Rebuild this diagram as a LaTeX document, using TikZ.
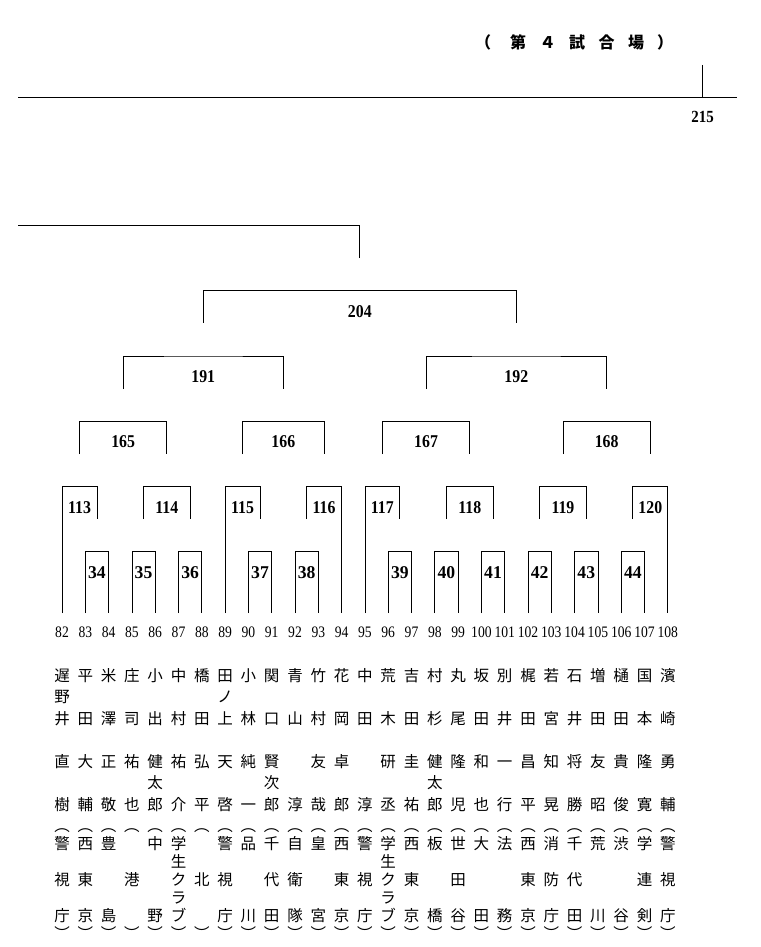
\documentclass[tikz,border=0pt]{standalone}
\usepackage{fontspec}
\setmainfont{Liberation Serif}
\newfontfamily\jpfont{Noto Sans CJK JP}
\newfontfamily\leaffont[FakeStretch=0.85]{Liberation Serif}
\newfontfamily\matchfont[FakeStretch=0.88]{Liberation Serif}
\newfontfamily\boxfont[FakeStretch=0.98]{Liberation Serif}
\newcommand{\meibo}[6]{\rule{0pt}{14pt}\mbox{#1}\\\mbox{#2}\\\mbox{#3}\\\mbox{}\\\mbox{#4}\\\mbox{#5}\\\mbox{#6}}
\newcommand{\shozoku}[5]{\rule{0pt}{14pt}︵\\\mbox{#1}\\\mbox{#2}\\\mbox{#3}\\\mbox{#4}\\\mbox{#5}\\︶}

\begin{document}
\begin{tikzpicture}[x=1pt,y=-1pt]
\tikzstyle{leg}=[line width=0.8pt]
\tikzstyle{leafno}=[inner sep=0pt,font=\leaffont\fontsize{16}{16}\selectfont]
\tikzstyle{matchno}=[inner sep=0pt,font=\matchfont\bfseries\fontsize{18}{18}\selectfont]
\tikzstyle{boxno}=[inner sep=0pt,font=\boxfont\bfseries\fontsize{18}{18}\selectfont]
\tikzstyle{player}=[anchor=north,inner sep=0pt,align=center,font=\jpfont\fontsize{15.5}{21.5}\selectfont]
\tikzstyle{club}=[player,font=\jpfont\fontsize{15.5}{18}\selectfont]
\useasboundingbox (0,0) rectangle (760,947);

% page head
\path (475,42.7) node[anchor=west,inner sep=0pt,font=\jpfont\bfseries\fontsize{16}{16}\selectfont](venue){（\hspace{19pt}第\hspace{13.5pt}４\hspace{13.5pt}試\hspace{13.5pt}合\hspace{13.5pt}場\hspace{13pt}）};
\path (18,97.5) coordinate(ruleL) (737,97.5) coordinate(ruleR) (702,65) coordinate(tickT);
\draw[line width=1.3pt] (ruleL) -- (ruleR);
\draw[leg] (tickT) -- (tickT |- ruleR);
\path (702.5,117) node[matchno,font=\matchfont\bfseries\fontsize{17}{17}\selectfont](page){215};

% leaves
\path (62.0,632) node[leafno](n82){82} (85.3,632) node[leafno](n83){83} (108.6,632) node[leafno](n84){84} (131.9,632) node[leafno](n85){85} (155.2,632) node[leafno](n86){86} (178.5,632) node[leafno](n87){87} (201.8,632) node[leafno](n88){88};
\path (225.1,632) node[leafno](n89){89} (248.4,632) node[leafno](n90){90} (271.7,632) node[leafno](n91){91} (295.0,632) node[leafno](n92){92} (318.3,632) node[leafno](n93){93} (341.6,632) node[leafno](n94){94};
\path (364.9,632) node[leafno](n95){95} (388.2,632) node[leafno](n96){96} (411.5,632) node[leafno](n97){97} (434.8,632) node[leafno](n98){98} (458.1,632) node[leafno](n99){99} (481.4,632) node[leafno](n100){100} (504.7,632) node[leafno](n101){101};
\path (528.0,632) node[leafno](n102){102} (551.3,632) node[leafno](n103){103} (574.6,632) node[leafno](n104){104} (597.9,632) node[leafno](n105){105} (621.2,632) node[leafno](n106){106} (644.5,632) node[leafno](n107){107} (667.8,632) node[leafno](n108){108};
\path (62.0,613) coordinate(f82) (85.3,613) coordinate(f83) (108.6,613) coordinate(f84) (131.9,613) coordinate(f85) (155.2,613) coordinate(f86) (178.5,613) coordinate(f87) (201.8,613) coordinate(f88);
\path (225.1,613) coordinate(f89) (248.4,613) coordinate(f90) (271.7,613) coordinate(f91) (295.0,613) coordinate(f92) (318.3,613) coordinate(f93) (341.6,613) coordinate(f94);
\path (364.9,613) coordinate(f95) (388.2,613) coordinate(f96) (411.5,613) coordinate(f97) (434.8,613) coordinate(f98) (458.1,613) coordinate(f99) (481.4,613) coordinate(f100) (504.7,613) coordinate(f101);
\path (528.0,613) coordinate(f102) (551.3,613) coordinate(f103) (574.6,613) coordinate(f104) (597.9,613) coordinate(f105) (621.2,613) coordinate(f106) (644.5,613) coordinate(f107) (667.8,613) coordinate(f108);

% names
\path (62.0,666.9) node[player](p82){\meibo{遅}{野}{井}{直}{}{樹}} (85.3,666.9) node[player](p83){\meibo{平}{}{田}{大}{}{輔}} (108.6,666.9) node[player](p84){\meibo{米}{}{澤}{正}{}{敬}};
\path (131.9,666.9) node[player](p85){\meibo{庄}{}{司}{祐}{}{也}} (155.2,666.9) node[player](p86){\meibo{小}{}{出}{健}{太}{郎}} (178.5,666.9) node[player](p87){\meibo{中}{}{村}{祐}{}{介}};
\path (201.8,666.9) node[player](p88){\meibo{橋}{}{田}{弘}{}{平}} (225.1,666.9) node[player](p89){\meibo{田}{ノ}{上}{天}{}{啓}} (248.4,666.9) node[player](p90){\meibo{小}{}{林}{純}{}{一}};
\path (271.7,666.9) node[player](p91){\meibo{関}{}{口}{賢}{次}{郎}} (295.0,666.9) node[player](p92){\meibo{青}{}{山}{}{}{淳}} (318.3,666.9) node[player](p93){\meibo{竹}{}{村}{友}{}{哉}};
\path (341.6,666.9) node[player](p94){\meibo{花}{}{岡}{卓}{}{郎}} (364.9,666.9) node[player](p95){\meibo{中}{}{田}{}{}{淳}} (388.2,666.9) node[player](p96){\meibo{荒}{}{木}{研}{}{丞}};
\path (411.5,666.9) node[player](p97){\meibo{吉}{}{田}{圭}{}{祐}} (434.8,666.9) node[player](p98){\meibo{村}{}{杉}{健}{太}{郎}} (458.1,666.9) node[player](p99){\meibo{丸}{}{尾}{隆}{}{児}};
\path (481.4,666.9) node[player](p100){\meibo{坂}{}{田}{和}{}{也}} (504.7,666.9) node[player](p101){\meibo{別}{}{井}{一}{}{行}} (528.0,666.9) node[player](p102){\meibo{梶}{}{田}{昌}{}{平}};
\path (551.3,666.9) node[player](p103){\meibo{若}{}{宮}{知}{}{晃}} (574.6,666.9) node[player](p104){\meibo{石}{}{井}{将}{}{勝}} (597.9,666.9) node[player](p105){\meibo{増}{}{田}{友}{}{昭}};
\path (621.2,666.9) node[player](p106){\meibo{樋}{}{田}{貴}{}{俊}} (644.5,666.9) node[player](p107){\meibo{国}{}{本}{隆}{}{寛}} (667.8,666.9) node[player](p108){\meibo{濱}{}{崎}{勇}{}{輔}};

% clubs
\path (62.0,816.9) node[club](c82){\shozoku{警}{}{視}{}{庁}} (85.3,816.9) node[club](c83){\shozoku{西}{}{東}{}{京}} (108.6,816.9) node[club](c84){\shozoku{豊}{}{}{}{島}};
\path (131.9,816.9) node[club](c85){\shozoku{}{}{港}{}{}} (155.2,816.9) node[club](c86){\shozoku{中}{}{}{}{野}} (178.5,816.9) node[club](c87){\shozoku{学}{生}{ク}{ラ}{ブ}};
\path (201.8,816.9) node[club](c88){\shozoku{}{}{北}{}{}} (225.1,816.9) node[club](c89){\shozoku{警}{}{視}{}{庁}} (248.4,816.9) node[club](c90){\shozoku{品}{}{}{}{川}};
\path (271.7,816.9) node[club](c91){\shozoku{千}{}{代}{}{田}} (295.0,816.9) node[club](c92){\shozoku{自}{}{衛}{}{隊}} (318.3,816.9) node[club](c93){\shozoku{皇}{}{}{}{宮}};
\path (341.6,816.9) node[club](c94){\shozoku{西}{}{東}{}{京}} (364.9,816.9) node[club](c95){\shozoku{警}{}{視}{}{庁}} (388.2,816.9) node[club](c96){\shozoku{学}{生}{ク}{ラ}{ブ}};
\path (411.5,816.9) node[club](c97){\shozoku{西}{}{東}{}{京}} (434.8,816.9) node[club](c98){\shozoku{板}{}{}{}{橋}} (458.1,816.9) node[club](c99){\shozoku{世}{}{田}{}{谷}};
\path (481.4,816.9) node[club](c100){\shozoku{大}{}{}{}{田}} (504.7,816.9) node[club](c101){\shozoku{法}{}{}{}{務}} (528.0,816.9) node[club](c102){\shozoku{西}{}{東}{}{京}};
\path (551.3,816.9) node[club](c103){\shozoku{消}{}{防}{}{庁}} (574.6,816.9) node[club](c104){\shozoku{千}{}{代}{}{田}} (597.9,816.9) node[club](c105){\shozoku{荒}{}{}{}{川}};
\path (621.2,816.9) node[club](c106){\shozoku{渋}{}{}{}{谷}} (644.5,816.9) node[club](c107){\shozoku{学}{}{連}{}{剣}} (667.8,816.9) node[club](c108){\shozoku{警}{}{視}{}{庁}};

% first round
\path (96.95,551.5) coordinate(t34) (143.55,551.5) coordinate(t35) (190.15,551.5) coordinate(t36) (260.05,551.5) coordinate(t37) (306.65,551.5) coordinate(t38);
\path (399.85,551.5) coordinate(t39) (446.45,551.5) coordinate(t40) (493.05,551.5) coordinate(t41) (539.65,551.5) coordinate(t42) (586.25,551.5) coordinate(t43) (632.85,551.5) coordinate(t44);
\path (96.95,519) coordinate(e34) (143.55,519) coordinate(e35) (190.15,519) coordinate(e36) (260.05,519) coordinate(e37) (306.65,519) coordinate(e38);
\path (399.85,519) coordinate(e39) (446.45,519) coordinate(e40) (493.05,519) coordinate(e41) (539.65,519) coordinate(e42) (586.25,519) coordinate(e43) (632.85,519) coordinate(e44);
\draw[leg] (f83) |- (t34) -| (f84);
\draw[leg] (f85) |- (t35) -| (f86);
\draw[leg] (f87) |- (t36) -| (f88);
\draw[leg] (f90) |- (t37) -| (f91);
\draw[leg] (f92) |- (t38) -| (f93);
\draw[leg] (f96) |- (t39) -| (f97);
\draw[leg] (f98) |- (t40) -| (f99);
\draw[leg] (f100) |- (t41) -| (f101);
\draw[leg] (f102) |- (t42) -| (f103);
\draw[leg] (f104) |- (t43) -| (f105);
\draw[leg] (f106) |- (t44) -| (f107);
\path (96.95,573) node[boxno](m34){34} (143.55,573) node[boxno](m35){35} (190.15,573) node[boxno](m36){36} (260.05,573) node[boxno](m37){37} (306.65,573) node[boxno](m38){38};
\path (399.85,573) node[boxno](m39){39} (446.45,573) node[boxno](m40){40} (493.05,573) node[boxno](m41){41} (539.65,573) node[boxno](m42){42} (586.25,573) node[boxno](m43){43} (632.85,573) node[boxno](m44){44};

% second round
\path (79.48,486.5) coordinate(t113) (166.85,486.5) coordinate(t114) (242.58,486.5) coordinate(t115) (324.13,486.5) coordinate(t116);
\path (382.38,486.5) coordinate(t117) (469.75,486.5) coordinate(t118) (562.95,486.5) coordinate(t119) (650.33,486.5) coordinate(t120);
\path (79.48,454) coordinate(e113) (166.85,454) coordinate(e114) (242.58,454) coordinate(e115) (324.13,454) coordinate(e116);
\path (382.38,454) coordinate(e117) (469.75,454) coordinate(e118) (562.95,454) coordinate(e119) (650.33,454) coordinate(e120);
\draw[leg] (f82) |- (t113) -| (e34);
\draw[leg] (e35) |- (t114) -| (e36);
\draw[leg] (f89) |- (t115) -| (e37);
\draw[leg] (e38) |- (t116) -| (f94);
\draw[leg] (f95) |- (t117) -| (e39);
\draw[leg] (e40) |- (t118) -| (e41);
\draw[leg] (e42) |- (t119) -| (e43);
\draw[leg] (e44) |- (t120) -| (f108);
\path (79.48,508) node[matchno](m113){113} (166.85,508) node[matchno](m114){114} (242.58,508) node[matchno](m115){115} (324.13,508) node[matchno](m116){116};
\path (382.38,508) node[matchno](m117){117} (469.75,508) node[matchno](m118){118} (562.95,508) node[matchno](m119){119} (650.33,508) node[matchno](m120){120};

% third round and up
\path (123.17,421.5) coordinate(t165) (283.35,421.5) coordinate(t166) (426.07,421.5) coordinate(t167) (606.64,421.5) coordinate(t168);
\path (123.17,389) coordinate(e165) (283.35,389) coordinate(e166) (426.07,389) coordinate(e167) (606.64,389) coordinate(e168);
\draw[leg] (e113) |- (t165) -| (e114);
\draw[leg] (e115) |- (t166) -| (e116);
\draw[leg] (e117) |- (t167) -| (e118);
\draw[leg] (e119) |- (t168) -| (e120);
\path (123.17,442) node[matchno](m165){165} (283.35,442) node[matchno](m166){166} (426.07,442) node[matchno](m167){167} (606.64,442) node[matchno](m168){168};

\path (203.26,356) coordinate(t191) (516.36,356) coordinate(t192) (203.26,322.5) coordinate(e191) (516.36,322.5) coordinate(e192);
\draw[leg] (e165) |- (t191) -| (e166);
\draw[leg] (e167) |- (t192) -| (e168);
\path (203.26,377) node[matchno](m191){191} (516.36,377) node[matchno](m192){192};

\path (359.81,290.7) coordinate(t204) (359.81,258) coordinate(e204) (18,225.7) coordinate(prev);
\draw[leg] (e191) |- (t204) -| (e192);
\path (359.81,311.5) node[matchno](m204){204};
\draw[line width=1.1pt] (e204) |- (prev);
\end{tikzpicture}
\end{document}
